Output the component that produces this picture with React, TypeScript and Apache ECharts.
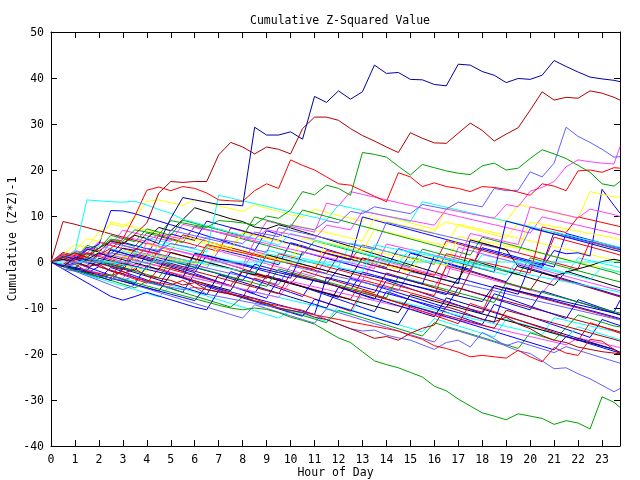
import React, { useEffect, useRef } from 'react';
import * as echarts from 'echarts';

// Hour of day (half-hour samples, last sample 23:45)
const HOURS = [0,0.5,1,1.5,2,2.5,3,3.5,4,4.5,5,5.5,6,6.5,7,7.5,8,8.5,9,9.5,10,10.5,11,11.5,12,12.5,13,13.5,14,14.5,15,15.5,16,16.5,17,17.5,18,18.5,19,19.5,20,20.5,21,21.5,22,22.5,23,23.5,23.75];

const TITLE = 'Cumulative Z-Squared Value';
const X_NAME = 'Hour of Day';
const Y_NAME = 'Cumulative (Z*Z)-1';

// ---- prominent traces ----
const TOP_BLUE = [
  0, -1, 1, 0.5, 2, 1, 3, 2.5,
  5, 4, 9.5, 14, 13.5, 13, 12.5, 12.5,
  12.2, 29.3, 27.6, 27.6, 28.3, 26.7, 36, 34.7,
  37.2, 35.4, 37, 42.8, 41, 41.2, 39.7, 39.6,
  38.6, 38.3, 43, 42.8, 41.4, 40.6, 39, 39.9,
  39.7, 40.6, 43.8, 42.5, 41.3, 40.2, 39.8, 39.5,
  39.2];
const DARK_RED_TOP = [
  0, 1, 2, 1, 3, 4.5, 4, 6,
  8.5, 15, 17.5, 17.3, 17.5, 17.5, 23.3, 26,
  25, 23.5, 25, 24.5, 23.5, 29, 31.5, 31.5,
  30.8, 29, 27.5, 26.3, 25, 23.8, 28.1, 26.9,
  25.9, 25.8, 28, 30.2, 28.6, 26.3, 27.8, 29.2,
  33, 37, 35.2, 35.8, 35.6, 37.2, 36.7, 35.8,
  35.2];
const RED_TOP = [
  0, -1, 0.5, 2, 1.5, 3, 5, 10,
  15.6, 16.3, 15.5, 16.4, 16, 15, 13.5, 13.3,
  13.2, 15.5, 17, 16, 22.2, 21, 20, 18.5,
  17, 16.7, 15.5, 14.3, 13.1, 19.4, 18.5, 16.4,
  17.2, 16.4, 16, 15.3, 16.4, 16.2, 15.8, 15.2,
  14.5, 17, 16.5, 15.5, 19.8, 20, 19.5, 20.5,
  20.4];
const GREEN_TOP = [
  0, 1, 2, 1.5, 3, 5, 4.5, 7,
  6.5, 6, 9, 8.5, 8, 7.5, 9, 8.8,
  8.5, 8, 10, 9.5, 11.3, 15.3, 14.6, 16.7,
  16, 14.5, 23.8, 23.4, 22.8, 20.8, 18.9, 21.2,
  20.5, 19.8, 19.3, 19, 20.9, 21.5, 20, 20.4,
  22.5, 24.4, 23.5, 22.5, 21, 19.5, 17, 16.5,
  17.5];
const GREEN_BOTTOM = [
  0, -1, -1.8, -2.5, -3.2, -2.8, -3.8, -4.5,
  -5.2, -5.9, -6.6, -7.3, -8, -8.7, -9.4, -10,
  -10.4, -10, -10.3, -11, -12, -12.7, -13.5, -15,
  -16.5, -17.5, -19.5, -21.5, -22.3, -23, -24, -25,
  -27, -28, -29.8, -31.3, -32.8, -33.5, -34.3, -33,
  -33.5, -34, -35.3, -34.5, -35, -36.3, -29.3, -30.5,
  -31.6];
const LIGHT_BLUE_BOTTOM = [
  0, -1.5, -2, -1.5, -3, -3.5, -4, -3,
  -4.5, -5, -5.5, -6, -5.5, -7, -7.5, -8,
  -8.5, -9, -9.5, -10, -10.5, -11, -11.5, -12.5,
  -13.5, -14.5, -15, -14.8, -15.9, -16.5, -17, -18,
  -19, -17.5, -17, -18.5, -15.3, -16.7, -18.3, -19.3,
  -19.9, -21.5, -23.2, -23, -24.3, -25.4, -26.8, -28.2,
  -27.5];
const RED_BOTTOM = [
  0, -1, -0.5, -2, -2.5, -3, -2, -3.5,
  -4, -4.5, -5, -4, -5.5, -6, -6.5, -7,
  -7.5, -8, -9, -9.5, -10, -10.5, -11.5, -12,
  -12.5, -13, -13.5, -14, -14.5, -15, -16, -16.8,
  -18.2, -18.8, -19.6, -20.6, -20.3, -20.6, -20.9, -19.2,
  -20.6, -21.7, -18.6, -19.8, -20.3, -16.8, -17.2, -19,
  -20];
const DARK_RED_BOTTOM = [
  0, 1, 0, -1, -0.5, -2, -2.5, -1.5,
  -3, -3.5, -4, -5, -4.5, -6, -6.5, -7,
  -7.5, -8.5, -9, -10, -10.5, -11, -12, -12.5,
  -13.5, -14.5, -15.5, -16.6, -16.2, -17, -15.5, -14.4,
  -13.7, -9.7, -10.5, -11.5, -12.5, -13, -12, -13.5,
  -14.5, -16, -17, -17.5, -18.5, -19, -19.5, -19.8,
  -20];
const MAGENTA_TOP = [
  0, 1.5, 1, 3, 2.5, 4, 5.5, 5,
  4.5, 6, 5.5, 5, 7.5, 7, 6.5, 6,
  5.5, 5, 7, 6.5, 6, 5.5, 5, 8,
  7.5, 7, 11, 10.5, 10, 9.5, 9, 8.5,
  8, 11.5, 11, 10.5, 10, 9.5, 12.5, 12,
  15.4, 16.2, 17.5, 20.7, 22.2, 21.8, 21.5, 21.3,
  25.1];
const CYAN_EARLY = [
  0, 1, 2.2, 13.5, 13.3, 13.1, 13, 13.2,
  12.4, 11.4, 10.6, 9.3, 8.6, 7.9, 7.2, 6.5,
  5.8, 5.1, 4.4, 3.7, 6.2, 5.5, 4.8, 4.1,
  3.4, 2.7, 2, 1.3, 0.6, -0.1, 2.8, 2.1,
  1.4, 0.7, 0, -0.7, -1.4, -2.1, -2.8, 0.4,
  -0.3, -1, -1.7, -2.4, -3.1, -3.8, -1.2, -1.9,
  -2.2];
const ZERO_LINE = [
  0, 0, 0, 0, 0, 0, 0, 0,
  0, 0, 0, 0, 0, 0, 0, 0,
  0, 0, 0, 0, 0, 0, 0, 0,
  0, 0, 0, 0, 0, 0, 0, 0,
  0, 0, 0, 0, 0, 0, 0, 0,
  0, 0, 0, 0, 0, 0, 0, 0,
  0];
const LIGHT_BLUE_TOP = [
  0, -1, -0.5, 1, 0, 2, 1.5, 1,
  3, 2.5, 4, 3.5, 3, 5.5, 5, 4.5,
  4, 6.5, 6, 5.5, 8, 7.5, 7, 9,
  8.5, 11, 10.5, 12, 11.5, 11, 10.5, 12.5,
  12, 11.5, 13, 12.5, 12, 16, 15.5, 15.6,
  19.6, 18.5, 21.5, 29.3, 27.3, 26, 24.5, 22.8,
  22.9];

// ---- tangle traces ----
const T1 = [0,-0.8,-1.2,0.5,-0.2,-0.9,-1.5,1.8, 1.1,0.4,-0.3,-1,-1.6,3.5,2.8,2.1, 1.5,0.8,0.1,-0.6,4.2,3.5,2.7,2, 1.3,0.6,-0.1,-0.8,-1.5,-2.2,1.9,1.2, 0.5,-0.2,-0.9,-1.6,3.1,2.4,1.7,1, 0.3,-0.4,-1.1,6.2,5.5,4.8,4.1,3.4, 3.1];
const T2 = [0,2.1,1.4,0.7,4.3,3.6,2.9,2.2, 1.5,5.8,5.1,4.4,3.7,3,2.3,7.4, 6.7,6,5.3,4.6,3.9,3.2,2.5,1.8, 1.1,0.4,3.7,3,2.3,1.6,0.9,0.2, -0.5,4.6,3.9,3.2,2.5,1.8,1.1,0.4, -0.3,-1,5.4,4.7,4,3.3,2.6,1.9, 1.5];
const T3 = [0,1.5,3.8,3.2,6.5,8.3,7.6,9.5, 13.2,13.5,12.9,12.3,13.6,12.9,12.2,11.6, 11,12.4,11.7,11,10.3,9.7,11.5,10.8, 10.1,9.5,8.8,10.6,9.9,9.2,8.5,7.8, 7.1,8.7,8,7.3,6.6,5.9,5.2,8.4, 7.7,7,6.3,5.6,4.9,4.2,3.5,2.8, 2.5];
const T4 = [0,-0.7,1.8,1.1,0.4,-0.3,3.6,2.9, 2.2,1.5,0.8,0.1,-0.6,-1.3,2.4,1.7, 1,0.3,-0.4,-1.1,-1.8,-2.5,-3.2,0.8, 0.1,-0.6,-1.3,-2,-2.7,-3.4,-4.1,-4.8, -5.5,-1.2,-1.9,-2.6,-3.3,-4,-4.7,-5.4, -6.1,-6.8,-3.5,-4.2,-4.9,-5.6,-6.3,-7, -7.3];
const T5 = [0,0.8,0.2,2.7,2.1,1.5,0.9,0.3, -0.3,3.9,3.3,2.7,2.1,1.5,0.9,0.3, -0.3,-0.9,2.6,2,1.4,0.8,0.2,-0.4, -1,4.1,3.5,2.9,2.3,1.7,1.1,0.5, -0.1,-0.7,-1.3,-1.9,1.6,1,0.4,-0.2, -0.8,-1.4,-2,-2.6,0.9,0.3,-0.3,-0.9, -1.2];
const T6 = [0,-0.8,-1.6,-2.4,-1,-1.8,-2.6,-3.4, -4.2,-5,-1.2,-2,-2.8,-3.6,-4.4,-5.2, -6,-6.8,-2.9,-3.7,-4.5,-5.3,-6.1,-6.9, -7.7,-3.5,-4.3,-5.1,-5.9,-6.7,-7.5,-8.3, -9.1,-9.9,-5.6,-6.4,-7.2,-8,-8.8,-9.6, -10.4,-6.3,-7.1,-7.9,-8.7,-9.5,-10.3,-11.1, -11.5];
const T7 = [0,1.2,0.5,2.9,2.2,4.8,4.1,3.4, 6.3,5.6,4.9,4.2,7.8,7.1,6.4,5.7, 5,4.3,3.6,2.9,2.2,1.5,4.6,3.9, 3.2,2.5,1.8,1.1,0.4,-0.3,-1,2.8, 2.1,1.4,0.7,0,-0.7,-1.4,-2.1,-2.8, 0.9,0.2,-0.5,-1.2,-1.9,-2.6,-3.3,-4, -4.3];
const T8 = [0,-0.6,-1.2,0.9,0.3,-0.3,-0.9,-1.5, -2.1,1.6,1,0.4,-0.2,-0.8,3.7,3.1, 2.5,1.9,1.3,0.7,0.1,5.2,4.6,4, 3.4,2.8,2.2,7.1,6.5,5.9,5.3,4.7, 4.1,3.5,8.2,7.6,7,6.4,5.8,5.2, 4.6,4,3.4,2.8,2.2,1.6,1,0.4, 0.1];
const T9 = [0,-0.9,-1.8,-2.7,-3.6,-1.2,-2.1,-3, -3.9,-4.8,-5.7,-6.6,-2.5,-3.4,-4.3,-5.2, -6.1,-7,-7.9,-3.6,-4.5,-5.4,-6.3,-7.2, -8.1,-9,-9.9,-10.8,-6.4,-7.3,-8.2,-9.1, -10,-10.9,-11.8,-12.7,-13.6,-9.2,-10.1,-11, -11.9,-12.8,-13.7,-14.6,-15.5,-16.4,-12.5,-13.4, -13.8];
const T10 = [0,-0.7,-1.4,-2.1,-2.8,-3.5,1.2,0.5, -0.2,-0.9,-1.6,-2.3,-3,-3.7,-4.4,-5.1, -1.8,-2.5,-3.2,-3.9,-4.6,-5.3,-6,-6.7, -7.4,-8.1,-3.9,-4.6,-5.3,-6,-6.7,-7.4, -8.1,-8.8,-9.5,-10.2,-10.9,-5.1,-5.8,-6.5, -7.2,-7.9,-8.6,-9.3,-10,-10.7,-11.4,-12.1, -12.5];
const T11 = [0,0.9,2.5,1.9,4.4,3.8,6.9,6.3, 5.7,5.1,4.5,8.2,7.6,7,6.4,5.8, 5.2,4.6,8.9,8.3,7.7,7.1,6.5,12.8, 12.2,15.3,14.7,14.1,13.5,12.9,12.3,11.7, 11.1,10.5,9.9,9.3,8.7,8.1,7.5,6.9, 6.3,9.8,9.2,8.6,8,7.4,6.8,6.2, 5.9];
const T12 = [0,-0.6,-1.2,-1.8,-2.4,-3,-3.6,-4.2, -1.1,-1.7,-2.3,-2.9,-3.5,-4.1,-4.7,-5.3, -5.9,-6.5,-7.1,-7.7,-8.3,-8.9,-9.5,-10.1, -10.7,-11.3,-6.8,-7.4,-8,-8.6,-9.2,-9.8, -10.4,-11,-11.6,-12.2,-12.8,-13.4,-14,-14.6, -15.2,-15.8,-12.1,-12.7,-13.3,-13.9,-14.5,-15.1, -15.4];
const T13 = [0,-1,-2,-2.8,-3.6,-4.4,-5.2,-6, -6.8,-7.6,-5,-5.8,-6.6,-7.4,-8.2,-9, -9.8,-10.6,-11.4,-12.2,-10.5,-11.3,-12.1,-12.9, -9.6,-10.4,-11.2,-12,-12.8,-13.6,-14.4,-15.2, -12.3,-13.1,-13.9,-14.7,-15.5,-16.3,-12.4,-13.2, -14,-14.8,-15.6,-16.4,-14.1,-14.9,-15.7,-16.5, -16.9];
const T14 = [0,1.5,0.8,2.9,2.2,4.6,3.9,5.8, 5.1,7.5,6.8,9.2,11.8,11,10.2,9.4, 8.8,7.6,7.2,8.1,7.4,6.6,5.8,5, 4.2,3.4,2.6,1.8,1,0.2,-0.6,-1.4, -2.2,-3,-3.8,0.5,-0.3,-1.1,-1.9,-2.7, -3.5,-4.3,-5.1,-2,-2.8,-3.6,-4.4,-5.2, -5.6];
const T15 = [0,1.1,0.4,2.6,3.8,11.2,11.1,10.5, 9.7,8.9,8.1,7.3,6.5,5.7,4.9,4.1, 3.3,2.5,6.8,6,5.2,4.4,3.6,2.8, 2,1.2,0.4,-0.4,-1.2,2.9,2.1,1.3, 0.5,-0.3,-1.1,-1.9,-2.7,-3.5,-4.3,-0.6, -1.4,-2.2,-3,-3.8,-4.6,-5.4,-6.2,-7, -7.4];
const T16 = [0,8.8,8.2,7.5,6.8,6.1,5.4,4.7, 4,3.3,2.6,5.9,5.2,4.5,3.8,3.1, 2.4,1.7,1,0.3,-0.4,-1.1,-1.8,-2.5, 1.3,0.6,-0.1,-0.8,-1.5,-2.2,-2.9,-3.6, -4.3,-5,-5.7,-6.4,-7.1,-7.8,-8.5,-9.2, -9.9,-10.6,-11.3,-12,-12.7,-13.4,-14.1,-14.8, -15.2];
const T17 = [0,-0.5,1.2,0.6,0,-0.6,-1.2,2.3, 1.7,1.1,0.5,-0.1,-0.7,-1.3,-1.9,-2.5, -3.1,-3.7,-4.3,-4.9,-0.8,-1.4,-2,-2.6, -3.2,-3.8,-4.4,-5,-5.6,-6.2,-2.1,-2.7, -3.3,-3.9,-4.5,-5.1,-5.7,-6.3,-6.9,-7.5, -8.1,-8.7,-9.3,-9.9,-10.5,-11.1,-11.7,-12.3, -12.6];
const T18 = [0,0.7,2.4,5.1,4.5,8.7,8.1,7.5, 6.9,6.3,5.7,5.1,4.5,3.9,3.3,2.7, 6.3,5.7,5.1,4.5,3.9,3.3,2.7,2.1, 1.5,0.9,0.3,-0.3,-0.9,-1.5,-2.1,1.4, 0.8,0.2,-0.4,-1,-1.6,-2.2,3.6,3, 2.4,1.8,1.2,0.6,0,-0.6,-1.2,-1.8, -2.1];
const T19 = [0,-0.8,-1.6,-2.4,-3.2,-4,-4.8,-5.6, -4.2,-5,-5.8,-6.6,-7.4,-8.2,-9,-9.8, -7.6,-8.4,-9.2,-10,-10.8,-11.6,-12.4,-13.2, -10.5,-11.3,-12.1,-12.9,-13.7,-14.5,-15.3,-16.1, -13.2,-14,-14.8,-15.6,-16.4,-17.2,-18,-18.8, -15.4,-16.2,-17,-14.3,-11.5,-12.3,-13.1,-13.9, -14.1];
const T20 = [0,1.4,0.7,3.2,2.5,1.8,4.3,3.6, 2.9,2.2,6.1,5.4,4.7,8.9,8.2,7.5, 6.8,6.1,5.4,4.7,4,3.3,2.6,1.9, 1.2,0.5,9.8,9.1,8.4,7.7,7,6.3, 5.6,4.9,4.2,3.5,2.8,2.1,1.4,0.7, 0,-0.7,6.5,5.8,5.1,4.4,3.7,3, 2.7];
const T21 = [0,-0.7,-1.4,0.9,0.2,-0.5,-1.2,-1.9, 1.6,0.9,0.2,-0.5,-1.2,-1.9,-2.6,-3.3, -4,-0.5,-1.2,-1.9,-2.6,-3.3,-4,-4.7, -5.4,-6.1,-2.2,-2.9,-3.6,-4.3,-5,-5.7, -6.4,-7.1,-3.5,-4.2,-4.9,-5.6,-6.3,-7, -0.5,-1.2,2.5,1.8,2,1.3,15.8,12.3, 10.6];
const T22 = [0,-0.8,0.9,0.1,-0.7,2.8,2,1.2, 0.4,-0.4,-1.2,-2,1.7,0.9,0.1,-0.7, -1.5,-2.3,-3.1,-3.9,-4.7,-1.9,-2.7,-3.5, -4.3,-5.1,-5.9,-6.7,-2.4,-3.2,-4,-4.8, -5.6,-6.4,-7.2,-2.1,-2.9,-3.7,-4.5,-5.3, -6.1,-2.4,-3.2,-4,-4.8,-5.6,-6.4,-7.2, -7.6];
const T23 = [0,-0.7,-1.4,-2.1,-2.8,-3.5,-4.2,-4.9, -5.6,-6.3,-2.7,-3.4,-4.1,-4.8,-5.5,-6.2, -1.9,-2.6,-3.3,-4,-4.7,-5.4,-6.1,-6.8, -7.5,-8.2,-8.9,-9.6,-10.3,-11,-7.1,-7.8, -8.5,-9.2,-9.9,-10.6,-11.3,-12,-12.7,-13.4, -14.1,-14.8,-15.5,-16.2,-16.9,-17.6,-18.3,-19, -19.9];
const T24 = [0,-0.9,-0.2,-1.1,-2,-2.9,-3.8,-4.7, -0.8,-1.7,-2.6,-3.5,-4.4,-5.3,-6.2,-2.1, -3,-3.9,-4.8,-5.7,-6.6,-7.5,-3.6,-4.5, -5.4,-6.3,-7.2,-8.1,-4,-4.9,-5.8,-6.7, -7.6,-8.5,-9.4,-10.3,-11.2,-6.9,-7.8,-8.7, -9.6,-10.5,-11.4,-12.3,-8.2,-9.1,-10,-10.9, -8.3];
const T25 = [0,-0.6,-1.2,-1.8,-2.4,-3,-3.6,-0.5, -1.1,-1.7,-2.3,-2.9,-3.5,-4.1,-4.7,-5.3, -5.9,-6.5,-7.1,-7.7,-4.2,-4.8,-5.4,-6, -6.6,-7.2,-7.8,-8.4,-9,-9.6,-10.2,-10.8, -11.4,-12,-12.6,-13.2,-13.8,-14.4,-15,-15.6, -16.2,-16.8,-17.4,-18,-16.5,-17.1,-17.7,-18.3, -18.6];
const T26 = [0,0.6,-0.1,1.9,1.2,0.5,-0.2,-0.9, -1.6,2.7,2,1.3,0.6,-0.1,-0.8,-1.5, -2.2,-2.9,-3.6,1.8,1.1,0.4,-0.3,-1, -1.7,-2.4,-3.1,-3.8,-4.5,-5.2,-5.9,-6.6, -7.3,-0.8,-1.5,-2.2,4.1,3.4,2.7,2, 1.3,0.6,-0.1,-0.8,-1.5,4.5,3.8,3.1, 2.8];
const T27 = [0,-0.5,-1,1.2,0.7,0.2,2.6,2.1, 1.6,1.1,0.6,0.1,-0.4,3.4,2.9,2.4, 1.9,1.4,0.9,0.4,-0.1,-0.6,-1.1,4.2, 3.7,3.2,2.7,2.2,1.7,1.2,0.7,0.2, -0.3,-0.8,5.5,5,4.5,4,3.5,3, 8.7,8.2,7.7,7.2,6.7,6.2,5.7,5.2, 4.9];
const T28 = [0,1.1,0.5,-0.1,2.4,1.8,1.2,0.6, 3.9,3.3,2.7,5.6,5,4.4,3.8,3.2, 6.4,5.8,5.2,4.6,8.2,7.6,7,6.4, 5.8,5.2,4.6,9.4,8.8,8.2,7.6,7, 6.4,11.8,11.2,10.6,10,9.4,8.8,12.5, 11.9,11.3,10.7,10.1,9.5,15.3,14.7,14.1, 14.2];
const T29 = [0,-0.7,-1.4,0.8,0.1,-0.6,-1.3,-2, -2.7,-3.4,0.3,-0.4,-1.1,-1.8,-2.5,-3.2, -3.9,-4.6,-5.3,-1.5,-2.2,-2.9,-3.6,-4.3, -5,-5.7,-6.4,-7.1,-7.8,-3.2,-3.9,-4.6, -5.3,-6,-6.7,-7.4,-8.1,-8.8,-4.5,-5.2, -5.9,-6.6,-7.3,-8,-8.7,-9.4,-10.1,-10.8, -11.1];
const T30 = [0,-0.8,-1.6,-2.4,-3.2,-4,-1.5,-2.3, -3.1,-3.9,-4.7,-5.5,-6.3,-7.1,-2.8,-3.6, -4.4,-5.2,-6,-6.8,-7.6,-8.4,-9.2,-10, -5.5,-6.3,-7.1,-7.9,-8.7,-9.5,-10.3,-11.1, -11.9,-7.8,-8.6,-9.4,-10.2,-11,-11.8,-12.6, -13.4,-14.2,-15,-15.8,-16.6,-17.4,-18.2,-19, -19.6];
const T31 = [0,1.2,0.6,0,3.5,2.9,2.3,1.7, 5.2,4.6,4,3.4,2.8,2.2,14.5,13.9, 13.3,12.7,12.1,11.5,10.9,10.3,9.7,9.1, 12.4,11.8,11.2,10.6,10,9.4,8.8,13.1, 12.5,11.9,11.3,10.7,10.1,9.5,8.9,8.3, 7.7,7.1,6.5,5.9,5.3,4.7,4.1,3.5, 3.2];
const T32 = [0,0.5,2.3,1.7,1.1,4.2,3.6,3, 2.4,1.8,6.9,6.3,5.7,5.1,4.5,3.9, 3.3,2.7,2.1,7.5,6.9,6.3,5.7,5.1, 4.5,3.9,3.3,2.7,8.6,8,7.4,6.8, 6.2,5.6,5,4.4,3.8,3.2,2.6,2, 7.3,6.7,6.1,5.5,4.9,4.3,3.7,3.1, 2.8];
const T33 = [0,-0.9,0.8,-0.1,-1,-1.9,-2.8,-3.7, -4.6,-1.4,-2.3,-3.2,-4.1,-5,-5.9,-6.8, -7.7,-3.5,-4.4,-5.3,-6.2,-7.1,-8,-8.9, -9.8,-10.7,-6.2,-7.1,-8,-8.9,-9.8,-10.7, -11.6,-12.5,-13.4,-9,-9.9,-10.8,-11.7,-12.6, -13.5,-14.4,-15.3,-16.2,-17.1,-13.2,-14.1,-15, -15.5];
const T34 = [0,-0.7,-1.4,-2.1,-2.8,-3.5,-4.2,-4.9, -5.6,-6.3,-7,-7.7,-8.4,-5.1,-5.8,-6.5, -7.2,-7.9,-8.6,-9.3,-10,-10.7,-11.4,-3.3, -4,-4.7,-5.4,-6.1,-6.8,-7.5,-8.2,-8.9, -9.6,-10.3,-11,-11.7,-12.4,-13.1,-5.6,-6.3, -7,-7.7,-8.4,-9.1,-9.8,-10.5,-11.2,-11.9, -12.3];
const T35 = [0,0.4,-0.3,-1,1.5,0.8,0.1,-0.6, 4.2,3.5,2.8,2.1,1.4,0.7,0,-0.7, -1.4,2.3,1.6,0.9,0.2,-0.5,-1.2,-1.9, -2.6,-3.3,-4,0.8,0.1,-0.6,-1.3,-2, -2.7,-3.4,3.2,2.5,1.8,1.1,0.4,-0.3, -1,-1.7,-2.4,-3.1,-3.8,-4.5,-5.2,-5.9, -6.2];
const T36 = [0,1.8,1.1,0.4,-0.3,-1,-1.7,1.5, 0.8,0.1,-0.6,-1.3,-2,-2.7,-3.4,-4.1, -4.8,-5.5,-6.2,-6.9,-2.5,-3.2,-3.9,-4.6, -5.3,-6,-6.7,-7.4,-8.1,-8.8,-9.5,-10.2, -10.9,-11.6,-12.3,-13,-13.7,-14.4,-10.5,-11.2, -11.9,-12.6,-13.3,-14,-14.7,-15.4,-16.1,-16.8, -17.2];
const T37 = [0,1.5,0.8,3.6,2.9,5.8,5.1,4.4, 7.2,6.5,5.8,9.1,8.4,7.7,7,6.3, 5.6,9.8,9.1,8.4,7.7,11.3,10.6,9.9, 9.2,8.5,7.8,7.1,6.4,5.7,5,4.3, 3.6,2.9,2.2,1.5,5.4,4.7,4,3.3, 2.6,1.9,1.2,0.5,-0.2,-0.9,-1.6,-2.3, -2.8];
const T38 = [0,-1.5,-3,-4.5,-6,-7.5,-8.3,-7.5, -6.6,-7.4,-8.2,-9,-9.8,-10.4,-6.2,-7, -7.8,-8.6,-9.4,-10.2,-11,-11.8,-8.1,-8.9, -9.7,-10.5,-11.3,-12.1,-12.9,-13.7,-9.5,-10.3, -11.1,-11.9,-12.7,-13.5,-14.3,-15.1,-15.9,-16.7, -17.5,-18.3,-19.1,-16.2,-17,-17.8,-18.6,-19.4, -19.8];
const T39 = [0,-1,-2,-3,-4,-5,-6,-5, -5.8,-6.6,-7.4,-8.2,-9,-9.8,-10.6,-11.4, -12.2,-9.3,-10.1,-10.9,-11.7,-12.5,-13.3,-10.2, -11,-11.8,-12.6,-13.4,-14.2,-15,-15.8,-16.6, -17.4,-14.2,-15,-15.8,-16.6,-17.4,-18.2,-17.3, -18.1,-18.9,-19.7,-18.4,-19.2,-20,-20.8,-21.6, -22];
const T40 = [0,0.6,-0.1,-0.8,1.9,1.2,0.5,-0.2, -0.9,-1.6,2.1,1.4,0.7,0,-0.7,-1.4, -2.1,-2.8,1.6,0.9,0.2,-0.5,-1.2,-1.9, -2.6,-3.3,0.9,0.2,-0.5,-1.2,-1.9,-2.6, -3.3,-4,-4.7,4.8,4.1,3.4,2.7,-1, -1.7,-2.4,-3.1,-2.2,-1.5,-0.8,0.1,0.6, 0.3];
const T41 = [0,-0.6,1.6,1,0.4,-0.2,-0.8,2.9, 2.3,1.7,1.1,0.5,-0.1,3.8,3.2,2.6, 2,1.4,0.8,0.2,-0.4,-1,-1.6,2.5, 1.9,1.3,0.7,0.1,-0.5,-1.1,-1.7,-2.3, -2.9,1.8,1.2,0.6,0,-0.6,-1.2,-1.8, -2.4,7.6,7,6.4,9.8,9.2,8.6,8, 7.7];
const T42 = [0,1.3,0.6,-0.1,-0.8,2.6,1.9,1.2, 0.5,-0.2,-0.9,-1.6,-2.3,1.4,0.7,0, -0.7,-1.4,-2.1,-2.8,-3.5,2.2,1.5,0.8, 0.1,-0.6,-1.3,-2,-2.7,-3.4,-4.1,-4.8, 1.3,0.6,-0.1,-0.8,-1.5,-2.2,8.9,8.2, 7.5,6.8,6.1,5.4,4.7,4,3.3,2.6, 2.3];
const T43 = [0,-0.6,-1.2,-1.8,0.8,0.2,-0.4,-1, -1.6,-2.2,-2.8,-3.4,1.9,1.3,0.7,0.1, -0.5,-1.1,-1.7,-2.3,-2.9,-3.5,-4.1,-4.7, -1.4,-2,-2.6,-3.2,-3.8,-4.4,-5,-5.6, -6.2,-6.8,-7.4,-8,-8.6,-5.1,-5.7,-6.3, -6.9,-7.5,-8.1,-8.7,-9.3,-9.9,-10.5,-11.1, -11.4];
const T44 = [0,0.9,0.3,-0.3,2.1,1.5,0.9,0.3, -0.3,-0.9,2.8,2.2,1.6,1,0.4,-0.2, -0.8,4.6,4,3.4,2.8,2.2,1.6,1, 0.4,-0.2,-0.8,-1.4,3.9,3.3,2.7,2.1, 1.5,0.9,0.3,6.2,5.6,5,4.4,3.8, 12,11.4,10.8,10.2,9.6,11.5,10.9,10.3, 9.9];
const T45 = [0,-0.5,-1,0.9,0.4,-0.1,-0.6,-1.1, -1.6,1.5,1,0.5,0,-0.5,-1,-1.5, -2,-2.5,1.8,1.3,0.8,0.3,-0.2,-0.7, -1.2,-1.7,-2.2,3.7,3.2,2.7,2.2,1.7, 1.2,0.7,0.2,-0.3,-0.8,-1.3,-1.8,-2.3, -2.8,-3.3,-3.8,-4.3,-4.8,-5.3,-5.8,-6.3, -6.6];

const COLORS: Record<string, string> = {
  red: '#ff0000', darkRed: '#b00000', green: '#00a000', blue: '#0000ff', navy: '#0000a0',
  lightBlue: '#6060ff', magenta: '#ff40ff', cyan: '#00ffff', yellow: '#ffff00', black: '#000000',
};

// draw order: tangle first, prominent traces on top
const SERIES_LIST: [number[], string][] = [
  [T1, 'blue'], [T2, 'red'], [T3, 'yellow'], [T4, 'magenta'], [T5, 'cyan'],
  [T6, 'blue'], [T7, 'green'], [T8, 'yellow'], [T9, 'blue'], [T10, 'red'],
  [T11, 'magenta'], [T12, 'cyan'], [T13, 'cyan'], [T14, 'black'], [T15, 'blue'],
  [T16, 'darkRed'], [T17, 'lightBlue'], [T18, 'yellow'], [T19, 'green'], [T20, 'blue'],
  [T21, 'blue'], [T22, 'darkRed'], [T23, 'black'], [T24, 'blue'], [T25, 'magenta'],
  [T26, 'red'], [T27, 'yellow'], [T28, 'yellow'], [T29, 'green'], [T30, 'navy'],
  [T31, 'cyan'], [T32, 'lightBlue'], [T33, 'red'], [T34, 'blue'], [T35, 'magenta'],
  [T36, 'darkRed'], [T37, 'green'], [T38, 'blue'], [T39, 'lightBlue'], [T40, 'black'],
  [T41, 'red'], [T42, 'blue'], [T43, 'navy'], [T44, 'magenta'], [T45, 'cyan'],
  [CYAN_EARLY, 'cyan'], [LIGHT_BLUE_BOTTOM, 'lightBlue'], [RED_BOTTOM, 'red'],
  [DARK_RED_BOTTOM, 'darkRed'], [GREEN_BOTTOM, 'green'], [MAGENTA_TOP, 'magenta'],
  [LIGHT_BLUE_TOP, 'lightBlue'], [GREEN_TOP, 'green'], [RED_TOP, 'red'],
  [ZERO_LINE, 'cyan'], [DARK_RED_TOP, 'darkRed'], [TOP_BLUE, 'navy'],
];

const FONT = "'DejaVu Sans Mono', monospace";

export default function App() {
  const ref = useRef<HTMLDivElement>(null);
  useEffect(() => {
    if (!ref.current) return;
    const chart = echarts.init(ref.current, null, { renderer: 'svg' });
    const series = SERIES_LIST.map(([vals, col], idx) => ({
      type: 'line',
      name: 'run' + (idx + 1),
      data: vals.map((v, i) => [HOURS[i], v]),
      showSymbol: false,
      symbol: 'none',
      silent: true,
      lineStyle: { width: 1, color: COLORS[col] },
      itemStyle: { color: COLORS[col] },
      emphasis: { disabled: true },
    }));
    const axisCommon = {
      axisLine: { show: true, onZero: false, lineStyle: { color: '#000', width: 1 } },
      axisTick: { show: true, inside: true, length: 6, lineStyle: { color: '#000', width: 1 } },
      splitLine: { show: false },
    };
    const labelStyle = { fontFamily: FONT, fontSize: 11.5, color: '#000' };
    chart.setOption({
      animation: false,
      title: {
        text: TITLE, left: 335, top: 9, textAlign: 'center',
        textStyle: { fontFamily: FONT, fontSize: 11.5, fontWeight: 'normal', color: '#000' },
      },
      grid: { left: 51, right: 20, top: 32, bottom: 34, containLabel: false, outerBoundsMode: 'none' },
      xAxis: [
        {
          type: 'value', min: 0, max: 23.75, interval: 1, position: 'bottom', ...axisCommon,
          axisLabel: {
            ...labelStyle, margin: 7, showMaxLabel: false,
            formatter: (v: number) => (Number.isInteger(v) ? String(v) : ''),
          },
          name: X_NAME, nameLocation: 'middle', nameGap: 20, nameMoveOverlap: false,
          nameTextStyle: { fontFamily: FONT, fontSize: 11.5, color: '#000', lineHeight: 12 },
        },
        {
          type: 'value', min: 0, max: 23.75, interval: 1, position: 'top', ...axisCommon,
          axisLabel: { show: false },
        },
      ],
      yAxis: [
        {
          type: 'value', min: -40, max: 50, interval: 10, position: 'left', ...axisCommon,
          axisLabel: { ...labelStyle, margin: 7 },
          name: Y_NAME, nameLocation: 'middle', nameGap: 33, nameRotate: 90, nameMoveOverlap: false,
          nameTextStyle: { fontFamily: FONT, fontSize: 11.5, color: '#000', lineHeight: 12 },
        },
        {
          type: 'value', min: -40, max: 50, interval: 10, position: 'right', ...axisCommon,
          axisLabel: { show: false },
        },
      ],
      series,
    });
    return () => chart.dispose();
  }, []);
  return <div ref={ref} style={{ position: 'fixed', left: 0, top: 0, width: 640, height: 480 }} />;
}
